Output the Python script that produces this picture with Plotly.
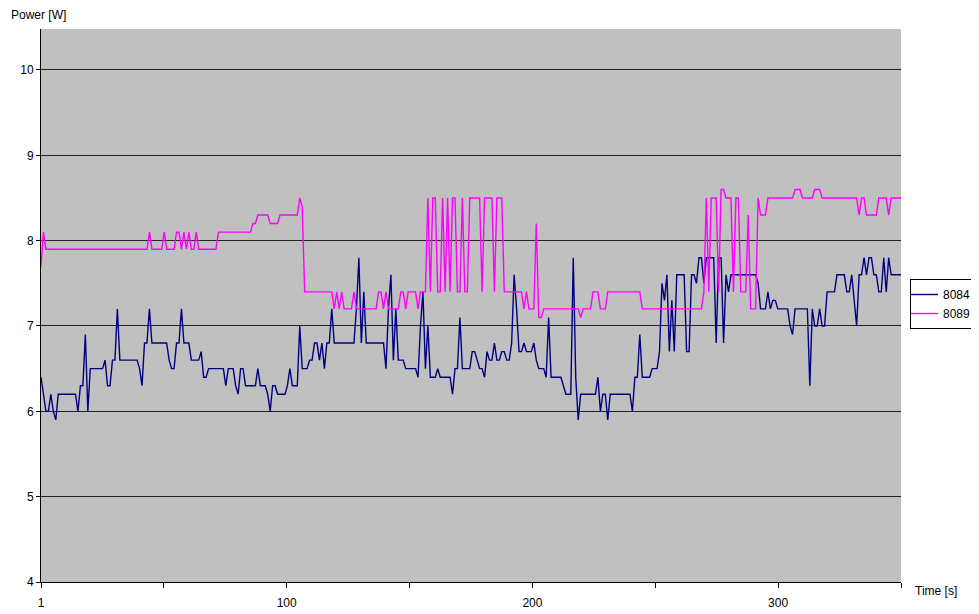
"""Power trace of two boards over time (Excel-style line chart)."""

import plotly.graph_objects as go

# Time axis: one sample per second
time_s = list(range(1, 351))

# Power readings [W]
power_8084 = [
    6.4, 6.2, 6.0, 6.0, 6.2, 6.0, 5.9, 6.2, 6.2, 6.2,
    6.2, 6.2, 6.2, 6.2, 6.2, 6.0, 6.3, 6.3, 6.9, 6.0,
    6.5, 6.5, 6.5, 6.5, 6.5, 6.5, 6.6, 6.3, 6.3, 6.6,
    6.6, 7.2, 6.6, 6.6, 6.6, 6.6, 6.6, 6.6, 6.6, 6.6,
    6.5, 6.3, 6.8, 6.8, 7.2, 6.8, 6.8, 6.8, 6.8, 6.8,
    6.8, 6.8, 6.6, 6.5, 6.5, 6.8, 6.8, 7.2, 6.8, 6.8,
    6.8, 6.6, 6.6, 6.6, 6.6, 6.7, 6.4, 6.4, 6.5, 6.5,
    6.5, 6.5, 6.5, 6.5, 6.5, 6.3, 6.5, 6.5, 6.5, 6.3,
    6.2, 6.5, 6.5, 6.3, 6.3, 6.3, 6.3, 6.3, 6.5, 6.3,
    6.3, 6.3, 6.2, 6.0, 6.3, 6.3, 6.2, 6.2, 6.2, 6.2,
    6.3, 6.5, 6.3, 6.3, 6.3, 7.0, 6.5, 6.5, 6.5, 6.6,
    6.6, 6.8, 6.8, 6.6, 6.8, 6.5, 6.8, 6.8, 7.2, 6.8,
    6.8, 6.8, 6.8, 6.8, 6.8, 6.8, 6.8, 6.8, 7.2, 7.8,
    6.8, 7.4, 6.8, 6.8, 6.8, 6.8, 6.8, 6.8, 6.8, 6.8,
    6.5, 7.2, 7.6, 6.6, 7.2, 6.6, 6.6, 6.6, 6.5, 6.5,
    6.5, 6.5, 6.5, 6.4, 7.0, 7.4, 6.5, 7.0, 6.4, 6.4,
    6.4, 6.5, 6.4, 6.4, 6.4, 6.4, 6.4, 6.2, 6.5, 6.5,
    7.1, 6.5, 6.5, 6.5, 6.5, 6.7, 6.7, 6.6, 6.5, 6.5,
    6.4, 6.7, 6.6, 6.6, 6.8, 6.6, 6.6, 6.7, 6.7, 6.6,
    6.6, 6.8, 7.6, 7.2, 6.7, 6.7, 6.8, 6.7, 6.7, 6.7,
    6.8, 6.6, 6.5, 6.5, 6.5, 6.4, 7.1, 6.4, 6.4, 6.4,
    6.4, 6.4, 6.3, 6.2, 6.2, 6.2, 7.8, 6.4, 5.9, 6.2,
    6.2, 6.2, 6.2, 6.2, 6.2, 6.2, 6.4, 6.0, 6.2, 6.2,
    5.9, 6.2, 6.2, 6.2, 6.2, 6.2, 6.2, 6.2, 6.2, 6.2,
    6.0, 6.4, 6.4, 6.9, 6.4, 6.4, 6.4, 6.4, 6.5, 6.5,
    6.5, 6.7, 7.5, 7.3, 7.6, 6.7, 7.3, 6.7, 7.6, 7.6,
    7.6, 7.6, 6.7, 6.7, 7.6, 7.6, 7.5, 7.8, 7.8, 7.5,
    7.8, 7.8, 7.8, 7.8, 6.8, 7.8, 7.8, 6.8, 7.6, 7.4,
    7.6, 7.6, 7.6, 7.6, 7.6, 7.6, 7.6, 7.6, 7.6, 7.6,
    7.6, 7.5, 7.2, 7.2, 7.2, 7.4, 7.2, 7.3, 7.3, 7.2,
    7.2, 7.2, 7.2, 7.2, 7.0, 6.9, 7.2, 7.2, 7.2, 7.2,
    7.2, 7.2, 6.3, 7.2, 7.0, 7.0, 7.2, 7.0, 7.0, 7.4,
    7.4, 7.4, 7.4, 7.6, 7.6, 7.6, 7.6, 7.4, 7.4, 7.6,
    7.3, 7.0, 7.6, 7.6, 7.8, 7.6, 7.8, 7.8, 7.6, 7.6,
    7.4, 7.4, 7.8, 7.4, 7.8, 7.6, 7.6, 7.6, 7.6, 7.6,
]

power_8089 = [
    7.7, 8.1, 7.9, 7.9, 7.9, 7.9, 7.9, 7.9, 7.9, 7.9,
    7.9, 7.9, 7.9, 7.9, 7.9, 7.9, 7.9, 7.9, 7.9, 7.9,
    7.9, 7.9, 7.9, 7.9, 7.9, 7.9, 7.9, 7.9, 7.9, 7.9,
    7.9, 7.9, 7.9, 7.9, 7.9, 7.9, 7.9, 7.9, 7.9, 7.9,
    7.9, 7.9, 7.9, 7.9, 8.1, 7.9, 7.9, 7.9, 7.9, 7.9,
    8.1, 7.9, 7.9, 7.9, 7.9, 8.1, 8.1, 7.9, 8.1, 7.9,
    8.1, 7.9, 7.9, 8.1, 7.9, 7.9, 7.9, 7.9, 7.9, 7.9,
    7.9, 7.9, 8.1, 8.1, 8.1, 8.1, 8.1, 8.1, 8.1, 8.1,
    8.1, 8.1, 8.1, 8.1, 8.1, 8.1, 8.2, 8.2, 8.3, 8.3,
    8.3, 8.3, 8.3, 8.2, 8.2, 8.2, 8.2, 8.3, 8.3, 8.3,
    8.3, 8.3, 8.3, 8.3, 8.3, 8.5, 8.4, 7.4, 7.4, 7.4,
    7.4, 7.4, 7.4, 7.4, 7.4, 7.4, 7.4, 7.4, 7.4, 7.2,
    7.4, 7.2, 7.4, 7.2, 7.2, 7.2, 7.2, 7.4, 7.2, 7.2,
    7.2, 7.2, 7.2, 7.2, 7.2, 7.2, 7.2, 7.4, 7.4, 7.2,
    7.4, 7.2, 7.2, 7.2, 7.2, 7.2, 7.4, 7.4, 7.2, 7.4,
    7.4, 7.4, 7.4, 7.2, 7.4, 7.4, 7.4, 8.5, 7.4, 8.5,
    8.5, 7.4, 7.4, 8.5, 7.4, 8.5, 7.4, 8.5, 8.5, 7.4,
    7.4, 8.5, 7.4, 7.4, 8.5, 8.5, 8.5, 8.5, 8.5, 7.4,
    8.5, 8.5, 8.5, 8.5, 7.4, 8.5, 8.5, 8.5, 7.4, 7.4,
    7.4, 7.4, 7.4, 7.4, 7.4, 7.4, 7.2, 7.4, 7.2, 7.2,
    7.2, 8.2, 7.1, 7.1, 7.2, 7.2, 7.2, 7.2, 7.2, 7.2,
    7.2, 7.2, 7.2, 7.2, 7.2, 7.2, 7.2, 7.2, 7.2, 7.1,
    7.2, 7.2, 7.2, 7.2, 7.4, 7.4, 7.4, 7.2, 7.2, 7.2,
    7.4, 7.4, 7.4, 7.4, 7.4, 7.4, 7.4, 7.4, 7.4, 7.4,
    7.4, 7.4, 7.4, 7.4, 7.2, 7.2, 7.2, 7.2, 7.2, 7.2,
    7.2, 7.2, 7.2, 7.2, 7.2, 7.2, 7.2, 7.2, 7.2, 7.2,
    7.2, 7.2, 7.2, 7.2, 7.2, 7.2, 7.2, 7.2, 7.2, 7.4,
    8.5, 7.4, 8.5, 8.5, 8.5, 7.4, 8.6, 8.6, 8.5, 8.5,
    8.5, 7.4, 8.5, 8.5, 7.4, 7.4, 7.4, 8.3, 7.2, 7.2,
    7.2, 8.5, 8.3, 8.3, 8.3, 8.5, 8.5, 8.5, 8.5, 8.5,
    8.5, 8.5, 8.5, 8.5, 8.5, 8.5, 8.6, 8.6, 8.6, 8.5,
    8.5, 8.5, 8.5, 8.5, 8.6, 8.6, 8.6, 8.5, 8.5, 8.5,
    8.5, 8.5, 8.5, 8.5, 8.5, 8.5, 8.5, 8.5, 8.5, 8.5,
    8.5, 8.5, 8.3, 8.5, 8.5, 8.3, 8.3, 8.3, 8.3, 8.3,
    8.5, 8.5, 8.5, 8.5, 8.3, 8.5, 8.5, 8.5, 8.5, 8.5,
]

# Axis ticks: 7 equal intervals across the time span, labelled every other one
x_tick_text = ["1", "", "100", "", "200", "", "300", ""]
y_ticks = [4, 5, 6, 7, 8, 9, 10]

x_min, x_max = time_s[0], time_s[-1]
step = (x_max - x_min) / 7
x_tick_vals = [x_min + i * step for i in range(8)]

FONT = "Liberation Sans, Arial, sans-serif"

# the page body keeps its default 8px margin, so the figure is sized to fit
W, H = 971, 606

fig = go.Figure()
fig.add_trace(go.Scatter(
    x=time_s, y=power_8084, mode="lines", name="8084",
    line=dict(color="#000080", width=1.4),
))
fig.add_trace(go.Scatter(
    x=time_s, y=power_8089, mode="lines", name="8089",
    line=dict(color="#FF00FF", width=1.4),
))

fig.update_layout(
    width=W,
    height=H,
    paper_bgcolor="white",
    plot_bgcolor="#C0C0C0",
    margin=dict(l=33, r=78, t=21, b=32, autoexpand=False),
    font=dict(family=FONT, size=12, color="black"),
    showlegend=True,
    legend=dict(
        xref="container", yref="container",
        x=(910 - 8) / W, y=1 - (304 - 8) / H, xanchor="left", yanchor="middle",
        bordercolor="black", borderwidth=1, bgcolor="white",
        font=dict(size=12), tracegroupgap=0, itemwidth=30,
        indentation=-8,
    ),
    annotations=[
        dict(text="Power [W]", x=0, y=1, xref="paper", yref="paper",
             xshift=-32, yshift=14, xanchor="left", yanchor="middle",
             showarrow=False, font=dict(size=12)),
        dict(text="Time [s]", x=1, y=0, xref="paper", yref="paper",
             xshift=12, yshift=-9, xanchor="left", yanchor="middle",
             showarrow=False, font=dict(size=12)),
    ],
)

fig.update_xaxes(
    range=[x_min, x_max], automargin=False,
    tickmode="array", tickvals=x_tick_vals, ticktext=x_tick_text,
    ticks="outside", ticklen=5, tickcolor="black", tickwidth=1,
    ticklabelstandoff=5,
    showline=True, linecolor="black", linewidth=1,
    showgrid=False, zeroline=False,
    tickfont=dict(size=12),
)
fig.update_yaxes(
    range=[4, 10.48], automargin=False,
    tickmode="array", tickvals=y_ticks,
    ticks="outside", ticklen=4, tickcolor="black", tickwidth=1,
    showline=True, linecolor="black", linewidth=1,
    showgrid=True, gridcolor="#222222", gridwidth=1,
    zeroline=False,
    tickfont=dict(size=12),
)

fig.write_html("out.html")
